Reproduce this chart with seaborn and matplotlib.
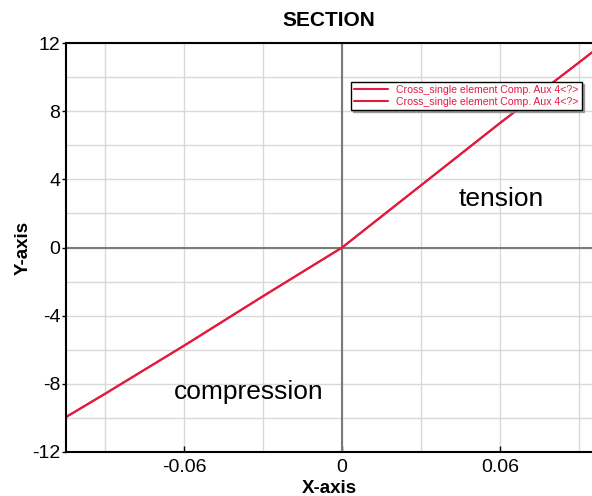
import matplotlib
matplotlib.use("Agg")
import matplotlib.pyplot as plt
import seaborn as sns
import numpy as np
import pandas as pd
from matplotlib.ticker import MultipleLocator

sns.set_style("white")
plt.rcParams['font.family'] = ['Liberation Sans', 'DejaVu Sans']
plt.rcParams['text.color'] = 'black'
plt.rcParams['axes.labelcolor'] = 'black'
plt.rcParams['xtick.color'] = 'black'
plt.rcParams['ytick.color'] = 'black'

strain = [-0.105, -0.09, -0.06, -0.03, 0.0, 0.03, 0.06, 0.09, 0.095]
stress = [-9.95, -8.57, -5.75, -2.85, 0.0, 3.65, 7.3, 10.85, 11.45]
series_label = "Cross_single element Comp. Aux 4<?>"
line_color = "#e41a3f"

df = pd.DataFrame({"x": strain, "y": stress})

fig = plt.figure(figsize=(5.92, 4.96), dpi=100)
ax = fig.add_axes([66/592, 44/496, 1 - 66/592, (452-43)/496])

for _ in range(2):
    sns.lineplot(data=df, x="x", y="y", ax=ax, color=line_color, linewidth=1.5,
                 label=series_label, sort=False)

ax.set_xlim(-0.105, 0.095)
ax.set_ylim(-12, 12)
ax.xaxis.set_major_locator(MultipleLocator(0.06))
ax.xaxis.set_minor_locator(MultipleLocator(0.03))
ax.yaxis.set_major_locator(MultipleLocator(4))
ax.yaxis.set_minor_locator(MultipleLocator(2))
ax.xaxis.set_major_formatter(matplotlib.ticker.FuncFormatter(lambda v, p: f"{v:g}"))
ax.yaxis.set_major_formatter(matplotlib.ticker.FuncFormatter(lambda v, p: f"{v:g}"))
ax.grid(True, which="both", color="#d9d9d9", linewidth=1.0)
ax.set_axisbelow(True)
ax.axhline(0, color="#7a7a7a", linewidth=1.5, zorder=1.5)
ax.axvline(0, color="#7a7a7a", linewidth=1.5, zorder=1.5)

for s in ["left", "bottom", "top"]:
    ax.spines[s].set_color("black")
    ax.spines[s].set_linewidth(1.5)
ax.spines["right"].set_visible(False)

ax.tick_params(axis="y", which="major", direction="out", length=3, width=1, labelsize=14, left=True, pad=1)
ax.tick_params(axis="y", which="minor", length=0)
ax.tick_params(axis="x", which="major", direction="in", length=4, width=1, labelsize=14, bottom=True, pad=5)
ax.tick_params(axis="x", which="minor", length=0)

ax.set_xlabel("X-axis", fontsize=13.5, fontweight="bold", labelpad=3)
ax.set_ylabel("Y-axis", fontsize=13.5, fontweight="bold", labelpad=0)
ax.set_title("SECTION", fontsize=15, fontweight="bold", pad=12)

ax.text(0.0605, 2.82, "tension", fontsize=19, ha="center", va="center", color="black")
ax.text(-0.0355, -8.5, "compression", fontsize=19, ha="center", va="center", color="black")

leg = ax.legend(loc="upper right", bbox_to_anchor=(0.981, 0.905), fontsize=7.6,
                frameon=True, fancybox=False,
                shadow={"ox": 1.5, "oy": -1.5, "color": "0.55", "alpha": 0.8},
                borderpad=0.3, labelspacing=0.15, handlelength=3.2,
                handletextpad=0.8, borderaxespad=0)
leg.get_frame().set_edgecolor("black")
leg.get_frame().set_linewidth(1.0)
for t in leg.get_texts():
    t.set_color(line_color)

fig.savefig("out.png", dpi=100)
